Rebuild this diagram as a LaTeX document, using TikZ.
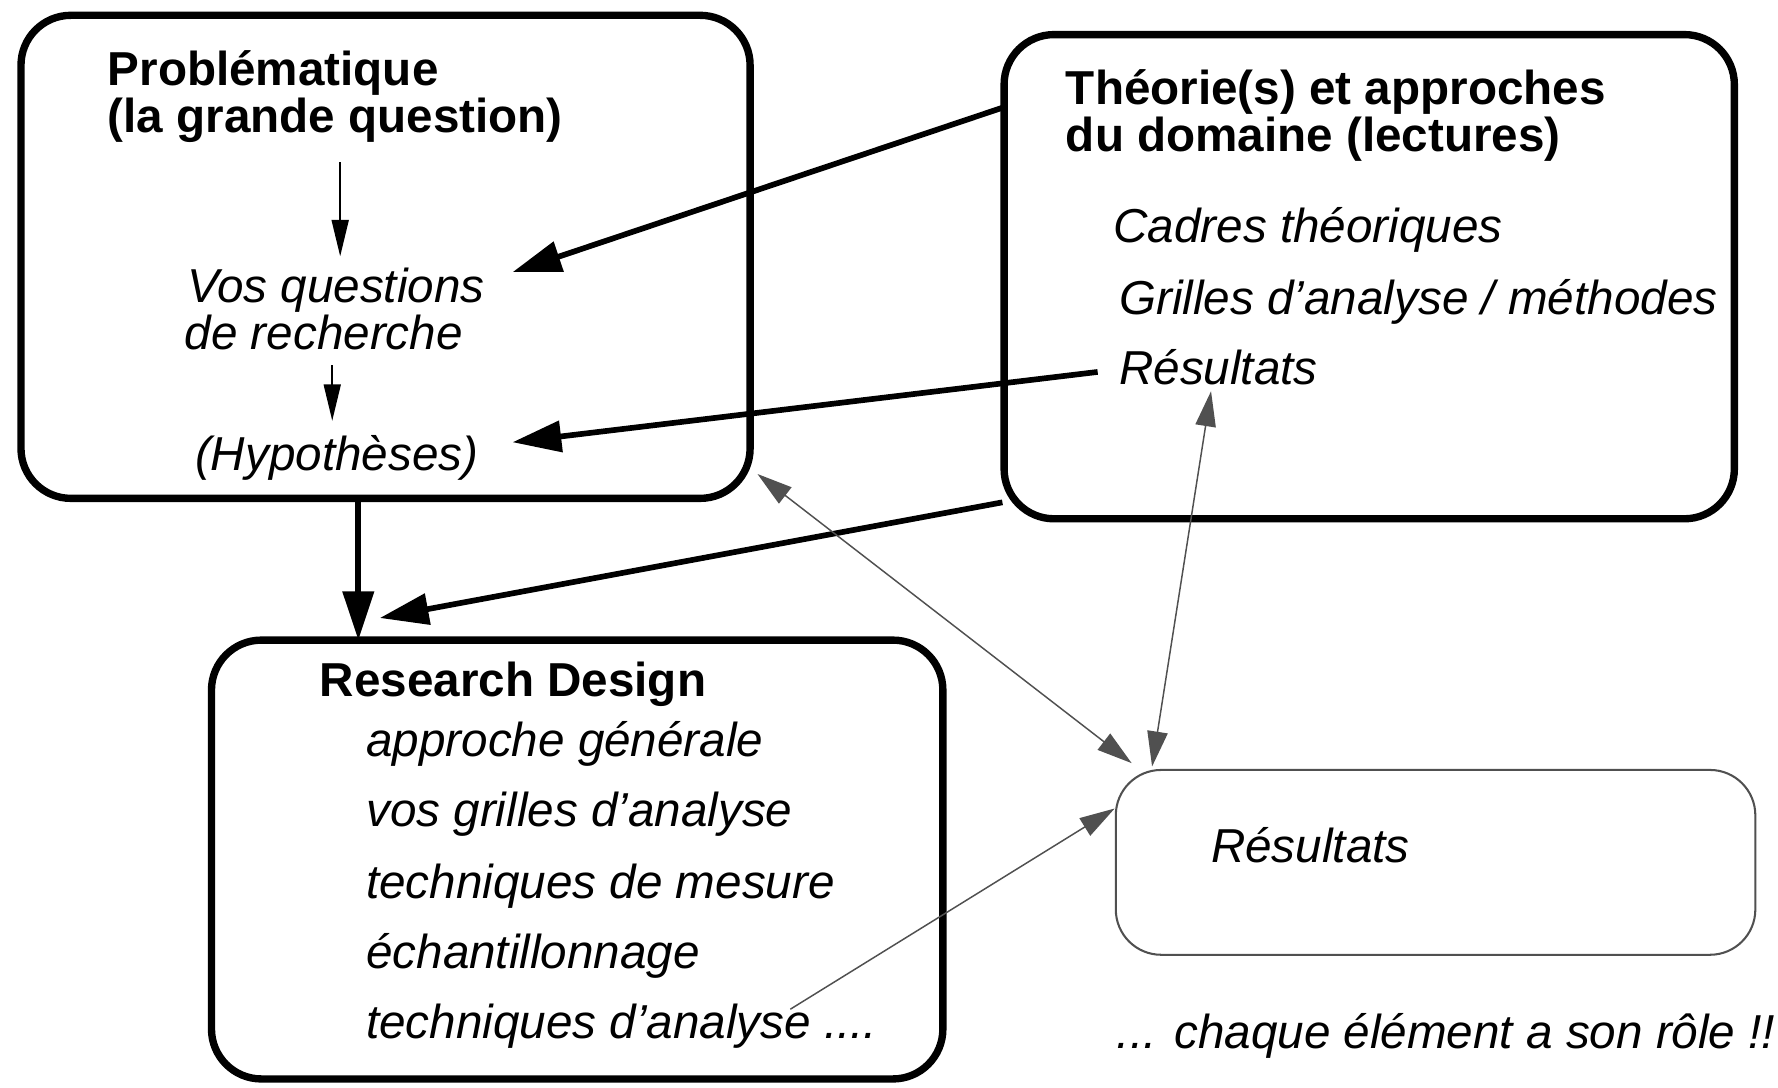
\documentclass[tikz,border=0pt]{standalone}
\usepackage{fontspec}
\setmainfont{Liberation Sans}
\usetikzlibrary{arrows.meta,calc}
\definecolor{linkgray}{HTML}{505050}
\begin{document}
\begin{tikzpicture}[x=1pt,y=-1pt,
  every node/.style={inner sep=0pt, outer sep=0pt},
  frame/.style={draw=black, line width=6.5pt, rounded corners=44pt, rectangle},
  softframe/.style={draw=linkgray, line width=1.8pt, rounded corners=40pt, rectangle},
  head/.style={anchor=base west, font=\fontsize{42}{42}\selectfont\bfseries},
  item/.style={anchor=base west, font=\fontsize{42}{42}\selectfont\itshape},
  bigarrow/.style={line width=5pt, -{Triangle[length=43pt,width=27pt]}},
  smallarrow/.style={line width=1.5pt, -{Triangle[length=32pt,width=15pt]}},
  link/.style={draw=linkgray, fill=linkgray, line width=1.3pt},
  twohead/.style={link, {Triangle[length=31pt,width=18pt]}-{Triangle[length=31pt,width=18pt]}},
  onehead/.style={link, -{Triangle[length=31pt,width=18pt]}}
]
\useasboundingbox (0,0) rectangle (1568,959);

% the four frames
\node[frame, minimum width=643pt, minimum height=426pt] (box1) at (340,226.5) {};
\node[frame, minimum width=644pt, minimum height=427pt] (box2) at (1207.5,244) {};
\node[frame, minimum width=645pt, minimum height=387pt] (box3) at (509,758) {};
\node[softframe, minimum width=564pt, minimum height=163pt] (box4) at (1266,760.5) {};

% problem statement
\node[head] (prob1) at (95,75) {Problématique};
\node[head] (prob2) at (95,117) {(la grande question)};
\node[item] (vq1) at (165,267) {Vos questions};
\node[item] (vq2) at (163,308) {de recherche};
\node[item] (hyp) at (172,415) {(Hypothèses)};

% theories
\node[head] (theo1) at (940,92) {Théorie(s) et approches};
\node[head] (theo2) at (940,134) {du domaine (lectures)};
\node[item] (cadres) at (982,214) {Cadres théoriques};
\node[item] (grilles) at (987,277) {Grilles d’analyse / méthodes};
\node[item] (resT) at (987,339) {Résultats};

% research design
\node[head] (rd) at (282,614) {Research Design};
\node[item] (rd1) at (323,667) {approche générale};
\node[item] (rd2) at (323,729) {vos grilles d’analyse};
\node[item] (rd3) at (323,792) {techniques de mesure};
\node[item] (rd4) at (323,854) {échantillonnage};
\node[item] (rd5) at (323,916) {techniques d’analyse ....};

% results
\node[item] (resR) at (1068,761) {Résultats};
\node[item] (roles) at (985,925) {... chaque élément a son rôle !!};

% connector end points
\coordinate (q1s) at (300,143);
\coordinate (q1e) at (300,226);
\coordinate (q2s) at (293,322);
\coordinate (q2e) at (293,371);
\coordinate (a1s) at (884,95);
\coordinate (a1e) at (452,240);
\coordinate (a2s) at (968,328);
\coordinate (a2e) at (452,390);
\coordinate (a3x) at (316,0);
\coordinate (a4s) at (884,443);
\coordinate (a4e) at (335,545);
\coordinate (g1s) at (668,418);
\coordinate (g1e) at (998,673);
\coordinate (g2s) at (1068,345);
\coordinate (g2e) at (1016,676);
\coordinate (g3s) at (697,890);
\coordinate (g3e) at (983,713);

% inside the problem frame
\draw[smallarrow] (q1s) -- (q1e);
\draw[smallarrow] (q2s) -- (q2e);

% heavy links
\draw[bigarrow] (a1s) -- (a1e);
\draw[bigarrow] (a2s) -- (a2e);
\draw[bigarrow] (box1.south -| a3x) -- (box3.north -| a3x);
\draw[bigarrow] (a4s) -- (a4e);

% light links towards the results
\draw[twohead] (g1s) -- (g1e);
\draw[twohead] (g2s) -- (g2e);
\draw[onehead] (g3s) -- (g3e);
\end{tikzpicture}
\end{document}
